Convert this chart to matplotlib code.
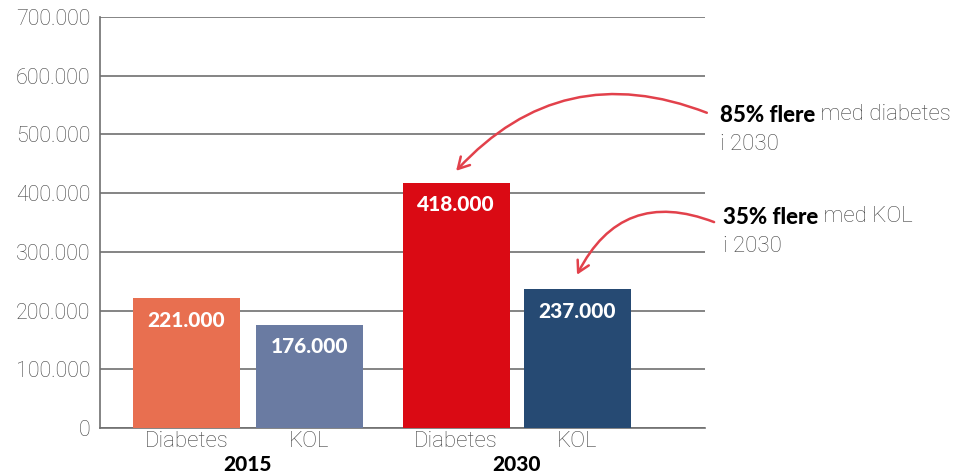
import matplotlib
matplotlib.use("Agg")
from matplotlib import pyplot as plt

categories = ["Diabetes", "KOL", "Diabetes", "KOL"]
years = ["2015", "2030"]
values = [221000, 176000, 418000, 237000]
value_labels = ["221.000", "176.000", "418.000", "237.000"]
colors = ["#E86F50", "#6A7BA2", "#DA0A14", "#264A73"]
yticks = [0, 100000, 200000, 300000, 400000, 500000, 600000, 700000]
ytick_labels = ["0", "100.000", "200.000", "300.000", "400.000", "500.000", "600.000", "700.000"]
notes = [("85% flere", " med diabetes", "i 2030"), ("35% flere", " med KOL", "i 2030")]

positions = [0, 1.15, 2.52, 3.65]
grid_col = "#6f6f6f"
txt_col = "#444444"

fig = plt.figure(figsize=[9.71, 4.75], dpi=100)
ax = fig.add_axes([100 / 971, 1 - 428 / 475, 605 / 971, 411 / 475])

ax.bar(positions, values, width=1.0, color=colors, zorder=3)
for x, v, lab in zip(positions, values, value_labels):
    ax.annotate(lab, xy=(x, v), xytext=(0, -16), textcoords="offset points",
                ha="center", va="center", color="white",
                fontsize=15, fontweight="black", family="Lato", zorder=4)

ax.set_xlim(-0.808, 4.846)
ax.set_ylim(0, 700000)
ax.set_yticks(yticks)
ax.set_yticklabels(ytick_labels, fontsize=15.5, color=txt_col, family="Roboto", fontweight="light")
ax.set_xticks(positions)
ax.set_xticklabels(categories, fontsize=16, color=txt_col, family="Roboto", fontweight="light")
ax.tick_params(axis="y", length=0, pad=7)
ax.tick_params(axis="x", length=0, pad=2)
ax.yaxis.grid(True, color=grid_col, linewidth=1.2, zorder=0)
ax.set_axisbelow(True)
for s in ["top", "right"]:
    ax.spines[s].set_visible(False)
for s in ["left", "bottom"]:
    ax.spines[s].set_color(grid_col)
    ax.spines[s].set_linewidth(1.2)

# year labels under each group
for i, yr in enumerate(years):
    xc = (positions[2 * i] + positions[2 * i + 1]) / 2
    ax.annotate(yr, xy=(xc, 0), xycoords="data", xytext=(0, -26), textcoords="offset points",
                ha="center", va="center", fontsize=15, fontweight="black", family="Lato",
                annotation_clip=False)

# arrows
arrow_col = "#E2414B"
ax.annotate("", xy=(positions[2], values[2] + 20000), xycoords="data",
            xytext=(1.003, 0.767), textcoords="axes fraction",
            arrowprops=dict(arrowstyle="->,head_length=0.8,head_width=0.45", color=arrow_col,
                            lw=1.8, connectionstyle="arc3,rad=0.34", shrinkA=0, shrinkB=0),
            annotation_clip=False)
ax.annotate("", xy=(positions[3], values[3] + 24000), xycoords="data",
            xytext=(1.015, 0.501), textcoords="axes fraction",
            arrowprops=dict(arrowstyle="->,head_length=0.8,head_width=0.45", color=arrow_col,
                            lw=1.8, connectionstyle="arc3,rad=0.45", shrinkA=0, shrinkB=0),
            annotation_clip=False)

# annotation texts
fig.canvas.draw()
r = fig.canvas.get_renderer()
note_pos = [(720, 475 - 115), (723, 475 - 217)]
for (bold, light, line2), (px, py) in zip(notes, note_pos):
    t = fig.text(px / 971, py / 475, bold, fontsize=16, fontweight="black", family="Lato",
                 va="center", ha="left")
    bb = t.get_window_extent(renderer=r)
    fig.text(bb.x1 / 971, py / 475, light, fontsize=16, fontweight="light", family="Roboto",
             color=txt_col, va="center", ha="left")
    fig.text(px / 971, (py - 30) / 475, line2, fontsize=16, fontweight="light", family="Roboto",
             color=txt_col, va="center", ha="left")

plt.savefig("out.png", dpi=100)
